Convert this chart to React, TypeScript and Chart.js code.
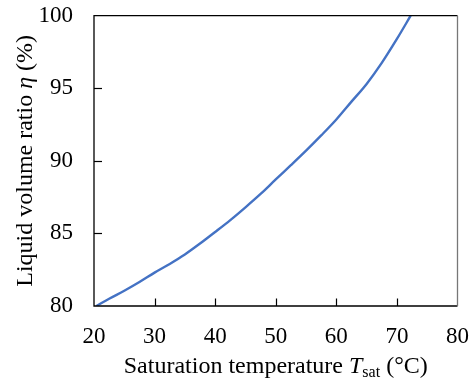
import React, { useEffect, useRef } from "react";
import { Chart, registerables } from "chart.js";

Chart.register(...registerables);

const temps = [20.4, 22.5, 25, 27.5, 30, 32.5, 35, 37.5, 40, 42.5, 45, 47.5, 50, 52.5, 55, 57.5, 60, 62.5, 65, 67.5, 70, 72.27];
const ratio = [80, 80.5, 81.05, 81.65, 82.3, 82.9, 83.55, 84.3, 85.1, 85.92, 86.8, 87.72, 88.72, 89.7, 90.7, 91.75, 92.85, 94.08, 95.3, 96.75, 98.4, 100];
const xTicks = [20, 30, 40, 50, 60, 70, 80];
const yTicks = [80, 85, 90, 95, 100];

const FONT = "'Liberation Serif', 'Times New Roman', serif";

const framePlugin = {
  id: "frame",
  afterDraw(chart: any) {
    const { ctx, chartArea } = chart;
    const { left, right, top, bottom } = chartArea;
    const xs = chart.scales.x;
    const ys = chart.scales.y;
    ctx.save();
    ctx.lineWidth = 1.3;
    ctx.strokeStyle = "#000";
    ctx.beginPath();
    ctx.moveTo(right, top);
    ctx.lineTo(left, top);
    ctx.lineTo(left, bottom);
    ctx.lineTo(right, bottom);
    ctx.stroke();
    ctx.strokeStyle = "#777";
    ctx.beginPath();
    ctx.moveTo(right, top);
    ctx.lineTo(right, bottom);
    ctx.stroke();
    ctx.strokeStyle = "#000";
    ctx.lineWidth = 1.2;
    xTicks.slice(1, -1).forEach((v) => {
      const px = Math.round(xs.getPixelForValue(v)) + 0.5;
      ctx.beginPath();
      ctx.moveTo(px, bottom);
      ctx.lineTo(px, bottom - 7.5);
      ctx.stroke();
    });
    yTicks.slice(1, -1).forEach((v) => {
      const py = Math.round(ys.getPixelForValue(v)) + 0.5;
      ctx.beginPath();
      ctx.moveTo(left, py);
      ctx.lineTo(left + 8, py);
      ctx.stroke();
    });
    ctx.fillStyle = "#000";
    ctx.textBaseline = "alphabetic";
    const parts: [string, string, number][] = [
      ["Saturation temperature ", `24px ${FONT}`, 0],
      ["T", `italic 24px ${FONT}`, 0],
      ["sat", `16px ${FONT}`, 4],
      [" (°C)", `24px ${FONT}`, 0],
    ];
    let total = 0;
    parts.forEach(([t, f]) => {
      ctx.font = f;
      total += ctx.measureText(t).width;
    });
    let x = (left + right) / 2 - total / 2;
    const baseY = 373;
    parts.forEach(([t, f, dy]) => {
      ctx.font = f;
      ctx.textAlign = "left";
      ctx.fillText(t, x, baseY + dy);
      x += ctx.measureText(t).width;
    });
    const yparts: [string, string][] = [
      ["Liquid volume ratio ", `24px ${FONT}`],
      ["η", `italic 24px ${FONT}`],
      [" (%)", `24px ${FONT}`],
    ];
    let ytotal = 0;
    yparts.forEach(([t, f]) => {
      ctx.font = f;
      ytotal += ctx.measureText(t).width;
    });
    ctx.translate(32, (top + bottom) / 2);
    ctx.rotate(-Math.PI / 2);
    let yx = -ytotal / 2;
    yparts.forEach(([t, f]) => {
      ctx.font = f;
      ctx.fillText(t, yx, 0);
      yx += ctx.measureText(t).width;
    });
    ctx.restore();
  },
};

export default function App() {
  const ref = useRef<HTMLCanvasElement | null>(null);
  useEffect(() => {
    document.body.style.margin = "0";
    const canvas = ref.current!;
    const chart = new Chart(canvas, {
      type: "line",
      data: {
        datasets: [
          {
            data: temps.map((t, i) => ({ x: t, y: ratio[i] })),
            borderColor: "#4472C4",
            borderWidth: 2.4,
            pointRadius: 0,
            cubicInterpolationMode: "monotone",
            fill: false,
          },
        ],
      },
      options: {
        animation: false,
        responsive: false,
        devicePixelRatio: 1,
        layout: { padding: { left: 0, right: 13.5, top: 15.7, bottom: 0 } },
        plugins: { legend: { display: false }, tooltip: { enabled: false } },
        scales: {
          x: {
            type: "linear",
            min: 20,
            max: 80,
            afterFit: (s: any) => {
              s.height = 77;
            },
            afterBuildTicks: (s: any) => {
              s.ticks = xTicks.map((v) => ({ value: v }));
            },
            grid: { display: false, drawTicks: true, tickLength: 17 },
            border: { display: false },
            ticks: {
              color: "#000",
              font: { family: FONT, size: 23 },
              padding: 0,
              maxRotation: 0,
            },
          },
          y: {
            type: "linear",
            min: 80,
            max: 100,
            afterFit: (s: any) => {
              s.width = 94;
            },
            afterBuildTicks: (s: any) => {
              s.ticks = yTicks.map((v) => ({ value: v }));
            },
            grid: { display: false, drawTicks: true, tickLength: 21 },
            border: { display: false },
            ticks: {
              color: "#000",
              font: { family: FONT, size: 23 },
              padding: 0,
            },
          },
        },
      },
      plugins: [framePlugin],
    });
    return () => chart.destroy();
  }, []);
  return <canvas ref={ref} width={471} height={383} style={{ width: 471, height: 383, display: "block" }} />;
}
